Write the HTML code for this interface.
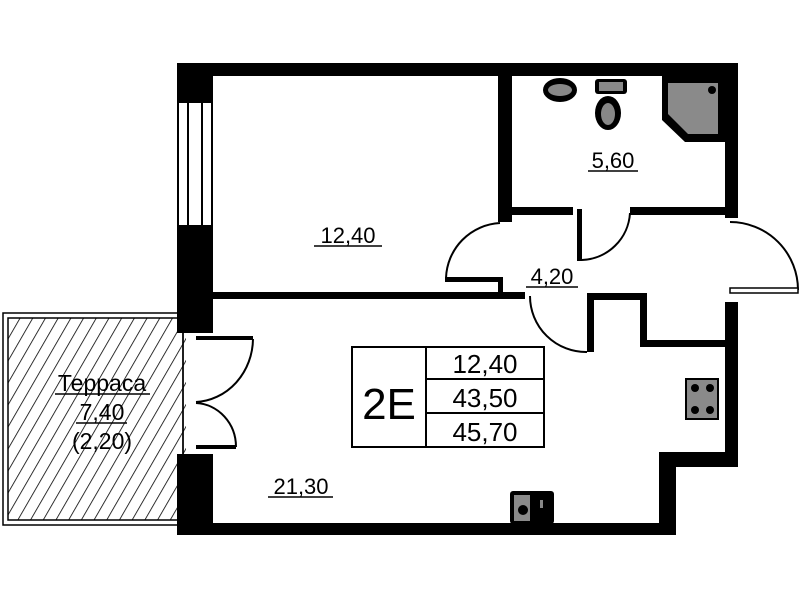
<!DOCTYPE html>
<html><head><meta charset="utf-8"><style>
html,body{margin:0;padding:0;background:#fff;}
svg{display:block}
text{font-family:"Liberation Sans",Arial,sans-serif;fill:#000}
</style></head><body>
<svg width="799" height="600" viewBox="0 0 799 600" xmlns="http://www.w3.org/2000/svg">
<defs>
<pattern id="h" width="11" height="11" patternUnits="userSpaceOnUse" patternTransform="rotate(30)">
<line x1="0" y1="0" x2="0" y2="11" stroke="#000" stroke-width="1.6"/>
</pattern>
<clipPath id="tc"><rect x="8" y="318" width="180" height="202"/></clipPath>
</defs>
<!-- terrace -->
<rect x="3" y="313" width="180" height="212" fill="none" stroke="#000" stroke-width="1.5"/>
<rect x="8" y="318" width="175" height="202" fill="none" stroke="#000" stroke-width="1.5"/>
<rect x="8" y="318" width="178" height="202" fill="url(#h)" clip-path="url(#tc)"/>
<!-- walls -->
<g fill="#000">
<rect x="177" y="63" width="561" height="13"/>
<rect x="177" y="63" width="36" height="40"/>
<rect x="177" y="225" width="36" height="108"/>
<rect x="177" y="454" width="36" height="81"/>
<rect x="177" y="523" width="499" height="12"/>
<rect x="498" y="63" width="14" height="159"/>
<rect x="498" y="207" width="75" height="8"/>
<rect x="630" y="207" width="108" height="8"/>
<rect x="725" y="63" width="13" height="155"/>
<rect x="213" y="292" width="312" height="7"/>
<rect x="498" y="280" width="5" height="19"/>
<rect x="445" y="277" width="58" height="5"/>
<rect x="577" y="209" width="5" height="52"/>
<rect x="587" y="293" width="7" height="59"/>
<rect x="587" y="293" width="60" height="7"/>
<rect x="640" y="293" width="7" height="54"/>
<rect x="640" y="340" width="98" height="7"/>
<rect x="725" y="302" width="13" height="165"/>
<rect x="659" y="452" width="79" height="15"/>
<rect x="659" y="452" width="17" height="83"/>
</g>
<!-- window -->
<g stroke="#000" stroke-width="2">
<line x1="178" y1="103" x2="178" y2="225"/>
<line x1="188" y1="103" x2="188" y2="225"/>
<line x1="202" y1="103" x2="202" y2="225"/>
<line x1="212" y1="103" x2="212" y2="225"/>
</g>
<!-- doors -->
<g fill="none" stroke="#000" stroke-width="2">
<path d="M500 223 A57 57 0 0 0 446 278"/>
<path d="M630 213 A50 50 0 0 1 582 260"/>
<path d="M530 296 A56 56 0 0 0 587 352"/>
<path d="M730 222 A68 68 0 0 1 798 290"/>
<path d="M253 339 A60 64 0 0 1 196 402"/>
<path d="M196 403 A42 44 0 0 1 236 447"/>
</g>
<rect x="730" y="288" width="68" height="5" fill="#fff" stroke="#000" stroke-width="1.5"/>
<rect x="196" y="336" width="57" height="4" fill="#000"/>
<rect x="196" y="445" width="40" height="4" fill="#000"/>
<!-- bath fixtures -->
<ellipse cx="560" cy="90" rx="17" ry="12" fill="#000"/>
<ellipse cx="560" cy="90" rx="12" ry="6" fill="#888"/>
<rect x="595" y="79" width="32" height="15" rx="3" fill="#000"/>
<rect x="599" y="82" width="24" height="9" fill="#888"/>
<ellipse cx="608" cy="113" rx="13" ry="17" fill="#000"/>
<ellipse cx="608" cy="114" rx="7" ry="11" fill="#888"/>
<path d="M662 76 H725 V142 H685 L662 120 Z" fill="#000"/>
<path d="M668 83 H718 V134 H688 L668 114 Z" fill="#8a8a8a"/>
<circle cx="712" cy="90" r="4" fill="#000"/>
<!-- stove -->
<rect x="685" y="378" width="34" height="42" fill="#000"/>
<rect x="687" y="380" width="30" height="38" fill="#8a8a8a"/>
<g fill="#000"><circle cx="695" cy="388" r="4"/><circle cx="710" cy="388" r="4"/><circle cx="695" cy="410" r="4"/><circle cx="710" cy="410" r="4"/></g>
<!-- sink -->
<rect x="510" y="491" width="44" height="33" rx="3" fill="#000"/>
<rect x="514" y="495" width="16" height="26" fill="#8a8a8a"/>
<circle cx="523" cy="510" r="5" fill="#000"/>
<rect x="540" y="500" width="3" height="8" fill="#888"/>
<!-- info table -->
<g fill="none" stroke="#000" stroke-width="2">
<rect x="352" y="347" width="192" height="100"/>
<line x1="426" y1="347" x2="426" y2="447"/>
<line x1="426" y1="379" x2="544" y2="379"/>
<line x1="426" y1="413" x2="544" y2="413"/>
</g>
<text x="389" y="419" font-size="44" text-anchor="middle">2E</text>
<text x="485" y="373" font-size="26" text-anchor="middle">12,40</text>
<text x="485" y="407" font-size="26" text-anchor="middle">43,50</text>
<text x="485" y="441" font-size="26" text-anchor="middle">45,70</text>
<!-- labels -->
<g font-size="22" text-anchor="middle">
<text x="348" y="243">12,40</text>
<text x="613" y="168">5,60</text>
<text x="552" y="284">4,20</text>
<text x="301" y="494">21,30</text>
<text x="102" y="391" font-size="23">Терраса</text>
<text x="102" y="420" font-size="23">7,40</text>
<text x="102" y="449" font-size="23">(2,20)</text>
</g>
<g stroke="#000" stroke-width="1.5">
<line x1="314" y1="246" x2="382" y2="246"/>
<line x1="588" y1="171" x2="638" y2="171"/>
<line x1="526" y1="287" x2="578" y2="287"/>
<line x1="268" y1="497" x2="333" y2="497"/>
<line x1="55" y1="394" x2="150" y2="394"/>
<line x1="76" y1="423" x2="127" y2="423"/>
</g>
</svg>
</body></html>
